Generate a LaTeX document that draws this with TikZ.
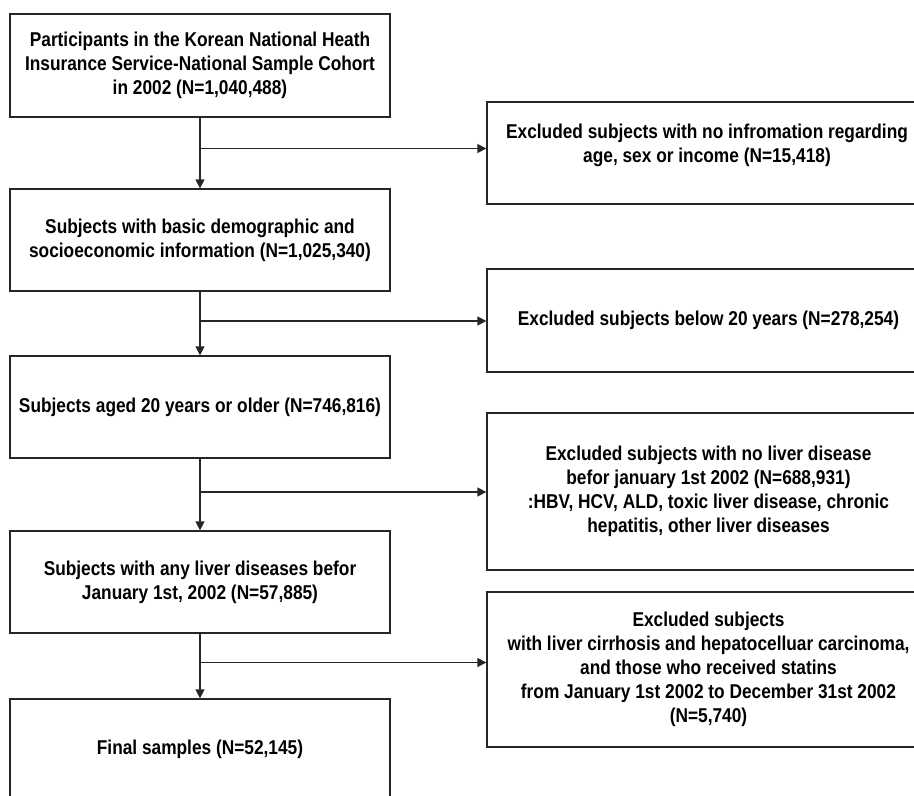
\documentclass[tikz,border=0pt]{standalone}
\usepackage{fontspec}
\setmainfont{Liberation Sans}[FakeStretch=0.865]
\usetikzlibrary{arrows.meta}
\begin{document}
\begin{tikzpicture}[x=1pt,y=-1pt,
  every node/.style={font=\fontsize{20}{24}\selectfont\bfseries, text=black, align=center, inner sep=0pt},
  leftbox/.style={draw=black!85, line width=1.3pt, minimum width=380pt},
  rightbox/.style={draw=black!85, line width=1.3pt, minimum width=443pt},
  conn/.style={draw=black!85, line width=1.3pt},
  arr/.style={conn, -{Triangle[length=9pt,width=9pt]}}]
\useasboundingbox (0,0) rectangle (914,796);
\clip (0,0) rectangle (914,796);
% left column
\node[leftbox, minimum height=103pt] (b1) at (200,65.5) {Participants in the Korean National Heath\\Insurance Service-National Sample Cohort\\in 2002 (N=1,040,488)};
\node[leftbox, minimum height=102pt] (b2) at (200,240) {Subjects with basic demographic and\\socioeconomic information (N=1,025,340)};
\node[leftbox, minimum height=102pt] (b3) at (200,407) {Subjects aged 20 years or older (N=746,816)};
\node[leftbox, minimum height=102pt] (b4) at (200,582) {Subjects with any liver diseases befor\\January 1st, 2002 (N=57,885)};
\node[leftbox, minimum height=100pt] (b5) at (200,749) {Final samples (N=52,145)};
% right column
\node[rightbox, minimum height=102pt] (r1) at (708.5,153) {};
\node (r1t) at (707,145) {Excluded subjects with no infromation regarding\\age, sex or income (N=15,418)};
\node[rightbox, minimum height=103pt] (r2) at (708.5,320.5) {Excluded subjects below 20 years (N=278,254)};
\node[rightbox, minimum height=157pt] (r3) at (708.5,491.5) {Excluded subjects with no liver disease\\befor january 1st 2002 (N=688,931)\\:HBV, HCV, ALD, toxic liver disease, chronic\\hepatitis, other liver diseases};
\node[rightbox, minimum height=155pt] (r4) at (708.5,669.5) {Excluded subjects\\with liver cirrhosis and hepatocelluar carcinoma,\\and those who received statins\\from January 1st 2002 to December 31st 2002\\(N=5,740)};
% junctions
\coordinate (j1) at (200,148.5);
\coordinate (j2) at (200,321);
\coordinate (j3) at (200,492);
\coordinate (j4) at (200,662.5);
% connectors
\draw[arr] (b1.south) -- (b2.north);
\draw[arr] (b2.south) -- (b3.north);
\draw[arr] (b3.south) -- (b4.north);
\draw[arr] (b4.south) -- (b5.north);
\draw[arr] (j1) -- (j1 -| r1.west);
\draw[arr] (j2) -- (j2 -| r2.west);
\draw[arr] (j3) -- (j3 -| r3.west);
\draw[arr] (j4) -- (j4 -| r4.west);
\end{tikzpicture}
\end{document}
